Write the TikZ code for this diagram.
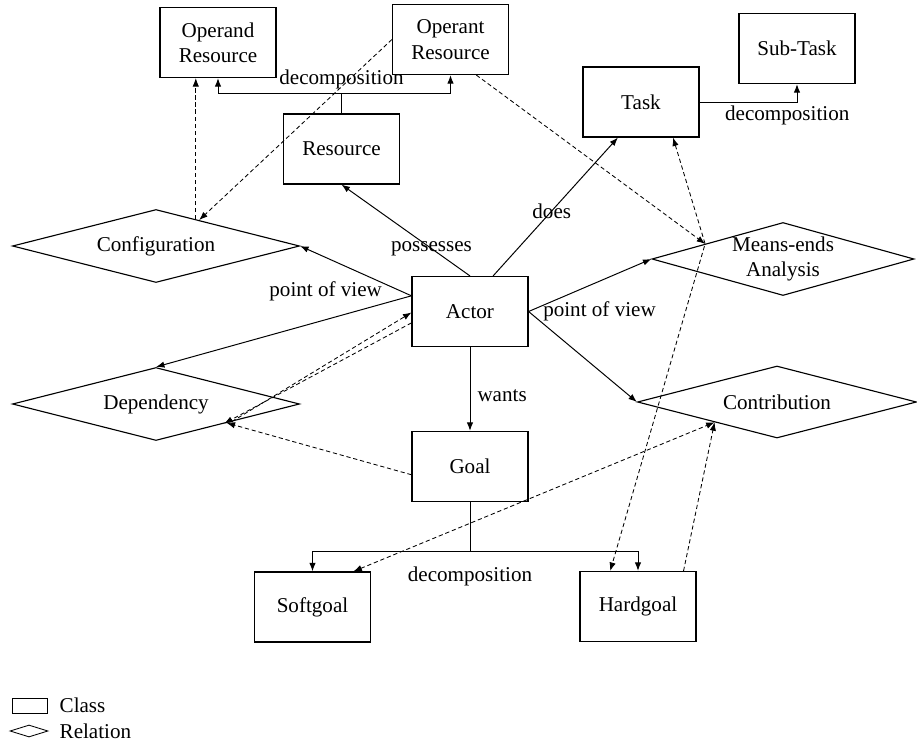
\documentclass[tikz,border=0pt]{standalone}
\usepackage{fontspec}
\setmainfont{Liberation Serif}
\usetikzlibrary{positioning, arrows.meta, shapes.geometric, calc}

\begin{document}
\begin{tikzpicture}[
  x=0.025cm, y=-0.025cm,
  font=\fontsize{15}{18}\selectfont,
  >={Latex[length=6pt, width=4.5pt]},
  cls/.style={rectangle, draw, line width=0.8pt, minimum width=2.9cm, minimum height=1.75cm, align=center},
  rel/.style={diamond, draw, line width=0.8pt, aspect=3.6, inner sep=0pt, align=center},
  assoc/.style={->, line width=0.7pt},
  dlink/.style={->, line width=0.6pt, dash pattern=on 3pt off 2pt},
  decomp/.style={->, line width=0.7pt},
  lbl/.style={inner sep=1pt}
]
\useasboundingbox (0,0) rectangle (917,744);

% Classes
\node[cls] (opd) at (218,42.5) {Operand\\Resource};
\node[cls] (opt) at (450.5,39.5) {Operant\\Resource};
\node[cls] (res) at (341.5,149) {Resource};
\node[cls] (task) at (641,102) {Task};
\node[cls] (sub) at (797,48.5) {Sub-Task};
\node[cls] (actor) at (470,311.5) {Actor};
\node[cls] (goal) at (470,466.5) {Goal};
\node[cls] (soft) at (312.5,607) {Softgoal};
\node[cls] (hard) at (638,606.5) {Hardgoal};

% Relations
\node[rel, minimum width=7.175cm, minimum height=1.825cm] (conf) at (156,246) {Configuration};
\node[rel, minimum width=7.175cm, minimum height=1.825cm] (dep) at (156,404) {Dependency};
\node[rel, minimum width=6.55cm, minimum height=1.825cm] (mea) at (783,259) {Means-ends\\Analysis};
\node[rel, minimum width=6.975cm, minimum height=1.8cm] (con) at (777,402) {Contribution};

% ===== Actor associations =====
\draw[assoc] (actor.north) -- (res.south) node[lbl, pos=0.3] {possesses};
\draw[assoc] (actor.57) -- (task.237) node[lbl, pos=0.47] {does};
\draw[assoc] (actor.165) -- (conf.east) node[lbl, at start, anchor=east, xshift=-0.69cm, yshift=0.1cm] {point of view};
\draw[assoc] (actor.165) -- (dep.north);
\draw[assoc] (actor.east) -- (mea.west) node[lbl, at start, anchor=west, xshift=0.32cm] {point of view};
\draw[assoc] (actor.east) -- (con.west);
\draw[assoc] (actor.south) -- (goal.north) node[lbl, pos=0.58, anchor=west, xshift=0.14cm] {wants};

% ===== Decompositions =====
\draw[decomp] (res.north) -- ++(0,-20) coordinate (rj) node[lbl, above=2pt] {decomposition} -| (opd.south);
\draw[decomp] (rj) -| (opt.south);
\draw[decomp] (task.east) -| (sub.south) node[lbl, pos=0.45, below=1.5pt] {decomposition};
\draw[decomp] (goal.south) -- ++(0,49) coordinate (gj) node[lbl, below=10pt] {decomposition} -| (soft.north);
\draw[decomp] (gj) -| (hard.north);

% ===== Dashed links =====
\draw[dlink] (conf.34) -- (conf.34 |- opd.south);
\draw[dlink] (opt.west) -- (conf.31);
\draw[dlink] (opt.306) -- (mea.169);
\draw[dlink, <->] (task.312) -- (mea.169) -- (hard.128);
\draw[dlink] (hard.38) -- (con.198);
\draw[dlink, <->] (soft.41) -- (con.198);
\draw[dlink] (goal.188) -- (dep.345);
\draw[dlink] (dep.347) -- (actor.181);
\draw[dlink] (actor.191) -- (dep.344);

% Legend
\node[rectangle, draw, line width=0.6pt, minimum width=0.875cm, minimum height=0.375cm, inner sep=0pt] (lcls) at (29.5,705.5) {};
\node[lbl, anchor=west] (lclstxt) at (58,705) {Class};
\node[diamond, draw, aspect=3, line width=0.6pt, minimum width=0.95cm, minimum height=0.3cm, inner sep=0pt] (lrel) at (29,731) {};
\node[lbl, anchor=west] (lreltxt) at (58,731) {Relation};

\end{tikzpicture}
\end{document}
